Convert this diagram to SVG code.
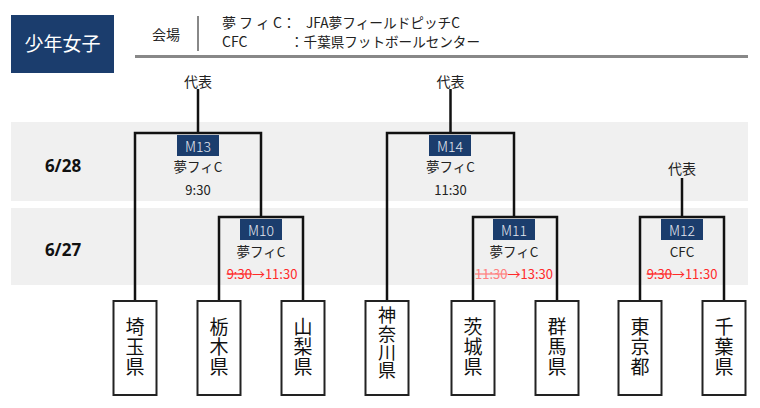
<svg xmlns="http://www.w3.org/2000/svg" width="760" height="408" viewBox="0 0 760 408">
<style>
text{font-family:"Noto Sans CJK JP","Noto Sans",sans-serif;fill:#222}
.band{fill:#f0f0f0}
.badge{fill:#1b3d6d}
.bt{font-size:14px;fill:#e4e8f0;text-anchor:middle;font-weight:300}
.ven{font-size:13.5px;text-anchor:middle}
.tm{font-size:13px;text-anchor:middle}
.red{font-size:13px;text-anchor:middle;fill:#ff2a2a}
.old{text-decoration:line-through}
.rep{font-size:14px;text-anchor:middle}
.date{font-family:"Noto Sans",sans-serif;font-size:17px;font-weight:bold;fill:#111;text-anchor:middle}
.box{fill:#fff;stroke:#222;stroke-width:2}
.pref{font-size:19px;text-anchor:middle;fill:#111;writing-mode:vertical-rl;letter-spacing:1px;font-weight:400}
.pref4{font-size:18px;text-anchor:middle;fill:#111;writing-mode:vertical-rl;letter-spacing:0.3px;font-weight:400}
.hd{font-size:14px}
.conn{fill:none;stroke:#111;stroke-width:2.5}
</style>

<g id="title">
<rect x="11" y="15" width="103" height="58" fill="#1b3d6d"/>
<text x="62.5" y="51" font-size="19" text-anchor="middle" style="fill:#fff">少年女子</text>
</g>

<g id="header">
<text class="hd" x="152" y="40">会場</text>
<line x1="198" y1="16" x2="198" y2="51" stroke="#888" stroke-width="2"/>
<text class="hd" x="222" y="28" textLength="74" lengthAdjust="spacing">夢 フ ィ C：</text>
<text class="hd" x="306" y="28" textLength="154" lengthAdjust="spacingAndGlyphs">JFA夢フィールドピッチC</text>
<text class="hd" x="222" y="47">CFC</text>
<text class="hd" x="290" y="47" textLength="190" lengthAdjust="spacingAndGlyphs">：千葉県フットボールセンター</text>
<line x1="135" y1="56.5" x2="748" y2="56.5" stroke="#888" stroke-width="3"/>
</g>

<g id="bands">
<rect class="band" x="11" y="122" width="737" height="79"/>
<rect class="band" x="11" y="208" width="737" height="77"/>
</g>

<g id="dates">
<text class="date" x="63" y="172">6/28</text>
<text class="date" x="63" y="256">6/27</text>
</g>

<g id="connectors">
<path class="conn" d="M198,89 V133"/>
<path class="conn" d="M135,301 V133 H261 V217"/>
<path class="conn" d="M219,301 V217 H303 V301"/>
<path class="conn" d="M450.5,89 V133"/>
<path class="conn" d="M387,301 V133 H514 V217"/>
<path class="conn" d="M473,301 V217 H557 V301"/>
<path class="conn" d="M682,178 V217"/>
<path class="conn" d="M640,301 V217 H724 V301"/>
</g>

<g id="rep13"><text class="rep" x="198" y="87">代表</text></g>
<g id="rep14"><text class="rep" x="450.5" y="87">代表</text></g>
<g id="rep12"><text class="rep" x="682" y="174">代表</text></g>

<g id="M13">
<rect class="badge" x="177" y="135" width="42" height="21"/>
<text class="bt" x="198" y="151.5">M13</text>
<text class="ven" x="198" y="172">夢フィC</text>
<text class="tm" x="198" y="195">9:30</text>
</g>
<g id="M10">
<rect class="badge" x="240" y="219" width="42" height="21"/>
<text class="bt" x="261" y="235.5">M10</text>
<text class="ven" x="261" y="256.5">夢フィC</text>
<text class="red" x="262" y="279"><tspan class="old">9:30</tspan>→11:30</text>
</g>
<g id="M14">
<rect class="badge" x="429" y="135" width="42" height="21"/>
<text class="bt" x="450" y="151.5">M14</text>
<text class="ven" x="450.5" y="172">夢フィC</text>
<text class="tm" x="450.5" y="195">11:30</text>
</g>
<g id="M11">
<rect class="badge" x="493" y="219" width="42" height="21"/>
<text class="bt" x="514" y="235.5">M11</text>
<text class="ven" x="514" y="256.5">夢フィC</text>
<text class="red" x="514" y="279"><tspan class="old" style="fill:#ff8080">11:30</tspan>→13:30</text>
</g>
<g id="M12">
<rect class="badge" x="661" y="219" width="42" height="21"/>
<text class="bt" x="682" y="235.5">M12</text>
<text class="ven" x="682" y="256.5">CFC</text>
<text class="red" x="682" y="279"><tspan class="old">9:30</tspan>→11:30</text>
</g>

<g id="saitama">
<rect class="box" x="113.5" y="301" width="43" height="94"/>
<text class="pref" x="135" y="347">埼玉県</text>
</g>
<g id="tochigi">
<rect class="box" x="197.5" y="301" width="43" height="94"/>
<text class="pref" x="219" y="347">栃木県</text>
</g>
<g id="yamanashi">
<rect class="box" x="281.5" y="301" width="43" height="94"/>
<text class="pref" x="303" y="347">山梨県</text>
</g>
<g id="kanagawa">
<rect class="box" x="365.5" y="301" width="43" height="94"/>
<text class="pref4" x="387" y="343">神奈川県</text>
</g>
<g id="ibaraki">
<rect class="box" x="451.5" y="301" width="43" height="94"/>
<text class="pref" x="473" y="347">茨城県</text>
</g>
<g id="gunma">
<rect class="box" x="535.5" y="301" width="43" height="94"/>
<text class="pref" x="557" y="347">群馬県</text>
</g>
<g id="tokyo">
<rect class="box" x="618.5" y="301" width="43" height="94"/>
<text class="pref" x="640" y="347">東京都</text>
</g>
<g id="chiba">
<rect class="box" x="702.5" y="301" width="43" height="94"/>
<text class="pref" x="724" y="347">千葉県</text>
</g>
</svg>
